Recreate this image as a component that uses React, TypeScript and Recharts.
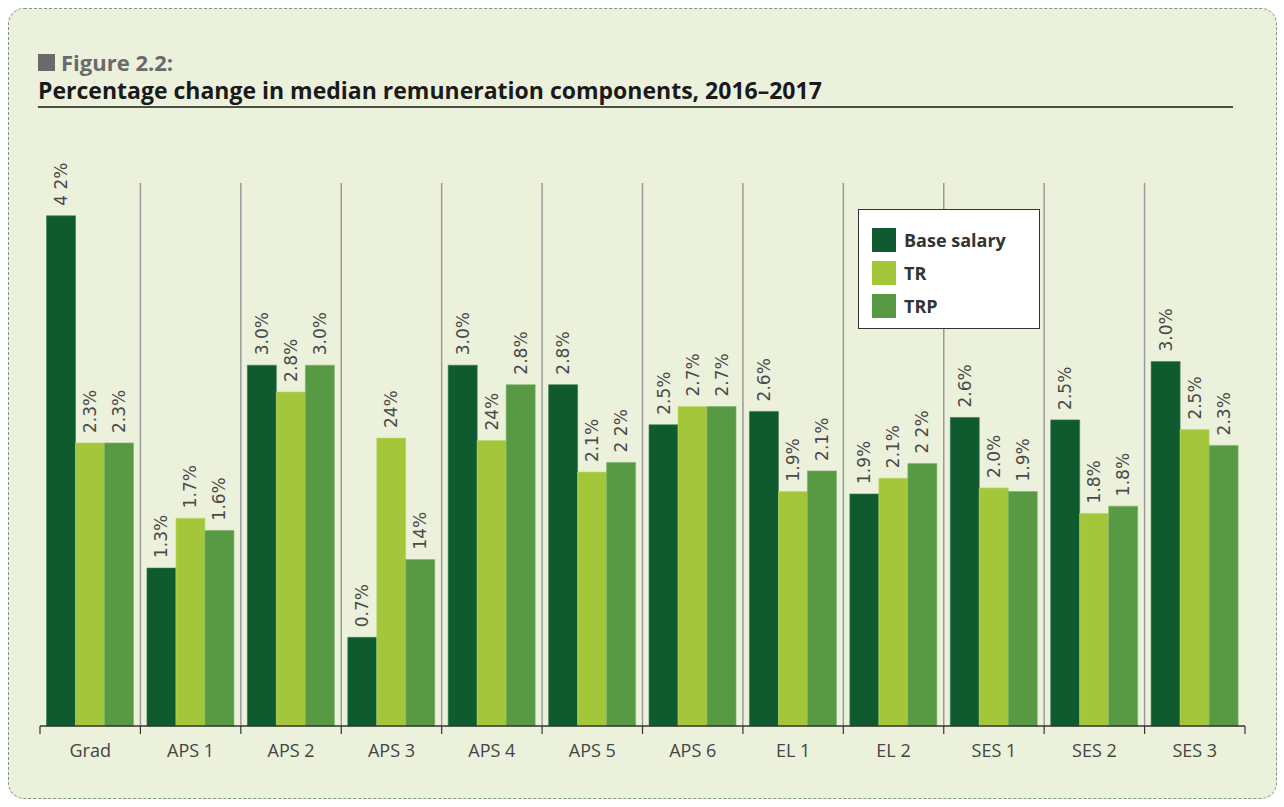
import { BarChart, Bar, XAxis, YAxis, CartesianGrid, LabelList } from 'recharts'

const categories = ['Grad', 'APS 1', 'APS 2', 'APS 3', 'APS 4', 'APS 5', 'APS 6', 'EL 1', 'EL 2', 'SES 1', 'SES 2', 'SES 3']

const baseSalary = [4.2, 1.3, 2.97, 0.73, 2.97, 2.81, 2.48, 2.59, 1.91, 2.54, 2.52, 3.0]
const tr = [2.33, 1.71, 2.75, 2.37, 2.35, 2.09, 2.63, 1.93, 2.04, 1.96, 1.75, 2.44]
const trp = [2.33, 1.61, 2.97, 1.37, 2.81, 2.17, 2.63, 2.1, 2.16, 1.93, 1.81, 2.31]

const baseLabels = ['4 2%', '1.3%', '3.0%', '0.7%', '3.0%', '2.8%', '2.5%', '2.6%', '1.9%', '2.6%', '2.5%', '3.0%']
const trLabels = ['2.3%', '1.7%', '2.8%', '24%', '24%', '2.1%', '2.7%', '1.9%', '2.1%', '2.0%', '1.8%', '2.5%']
const trpLabels = ['2.3%', '1.6%', '3.0%', '14%', '2.8%', '2 2%', '2.7%', '2.1%', '2 2%', '1.9%', '1.8%', '2.3%']

const COLORS = {
    base: '#0f5b2f',
    tr: '#a4c63a',
    trp: '#579a43',
}

const data = categories.map((name, i) => ({
    name,
    base: baseSalary[i],
    tr: tr[i],
    trp: trp[i],
    baseLabel: baseLabels[i],
    trLabel: trLabels[i],
    trpLabel: trpLabels[i],
}))

const W = 1284
const H = 807
const LEFT = 40
const RIGHT = 39
const BAND = (W - LEFT - RIGHT) / categories.length

const RotLabel = (props: any) => {
    const { x, y, width, value } = props
    const cx = x + width / 2
    const ty = y - 10
    return (
        <text
            x={cx}
            y={ty}
            transform={`rotate(-90 ${cx} ${ty})`}
            textAnchor="start"
            dominantBaseline="central"
            fontFamily="DejaVu Sans, sans-serif"
            fontSize={17}
            fill="#4a4a4a">
            {value}
        </text>
    )
}

const Tick = (props: any) => {
    const { x, y, payload, index } = props
    const left = x - BAND / 2
    return (
        <g>
            <line x1={left} x2={left} y1={y - 8} y2={y} stroke="#333" strokeWidth={1.2} />
            {index === categories.length - 1 && (
                <line x1={x + BAND / 2} x2={x + BAND / 2} y1={y - 8} y2={y} stroke="#333" strokeWidth={1.2} />
            )}
            <text x={x} y={y + 23} textAnchor="middle" fontFamily="Open Sans, sans-serif" fontSize={18} fill="#444">
                {payload.value}
            </text>
        </g>
    )
}

const legendItems = [
    { name: 'Base salary', color: COLORS.base },
    { name: 'TR', color: COLORS.tr },
    { name: 'TRP', color: COLORS.trp },
]

export default function App() {
    return (
        <div style={{ position: 'absolute', left: 0, top: 0, width: W, height: H, background: '#fff' }}>
            <div
                style={{
                    position: 'absolute',
                    left: 8,
                    top: 8,
                    width: 1269,
                    height: 791,
                    background: '#ecf1dc',
                    border: '1px dashed #7f9a7f',
                    borderRadius: 16,
                    boxSizing: 'border-box',
                }}
            />
            <div style={{ position: 'absolute', left: 38, top: 47, fontFamily: 'Open Sans, sans-serif', fontWeight: 700, fontSize: 22, color: '#6a6a6a', display: 'flex', alignItems: 'center' }}>
                <span style={{ display: 'inline-block', width: 17, height: 17, background: '#6a6a6a', marginRight: 6 }} />
                Figure 2.2:
            </div>
            <div style={{ position: 'absolute', left: 38, top: 74, fontFamily: 'Open Sans, sans-serif', fontWeight: 700, fontSize: 23, color: '#1a1a1a' }}>
                Percentage change in median remuneration components, 2016–2017
            </div>
            <div style={{ position: 'absolute', left: 38, top: 106, width: 1195, height: 2, background: '#4a4f45' }} />
            <div style={{ position: 'absolute', left: 0, top: 0 }}>
                <BarChart
                    width={W}
                    height={H}
                    data={data}
                    margin={{ top: 183, right: RIGHT, bottom: 41, left: LEFT }}
                    barCategoryGap="6.5%"
                    barGap={0}>
                    <CartesianGrid
                        horizontal={false}
                        stroke="#9a9a9a"
                        strokeWidth={1.5}
                        verticalCoordinatesGenerator={({ offset }: any) =>
                            categories.slice(1).map((_, i) => offset.left + (i + 1) * (offset.width / categories.length))
                        }
                    />
                    <XAxis dataKey="name" height={40} tickLine={false} axisLine={{ stroke: '#333', strokeWidth: 1.5 }} tick={<Tick />} interval={0} />
                    <YAxis hide domain={[0, 4.47]} />
                    <Bar dataKey="base" fill={COLORS.base} stroke="#3d7a4f" strokeWidth={0.6} isAnimationActive={false}>
                        <LabelList dataKey="baseLabel" content={<RotLabel />} />
                    </Bar>
                    <Bar dataKey="tr" fill={COLORS.tr} stroke="#bcd66a" strokeWidth={0.6} isAnimationActive={false}>
                        <LabelList dataKey="trLabel" content={<RotLabel />} />
                    </Bar>
                    <Bar dataKey="trp" fill={COLORS.trp} stroke="#7db06a" strokeWidth={0.6} isAnimationActive={false}>
                        <LabelList dataKey="trpLabel" content={<RotLabel />} />
                    </Bar>
                </BarChart>
            </div>
            <div
                style={{
                    position: 'absolute',
                    left: 858,
                    top: 209,
                    width: 182,
                    height: 120,
                    background: '#fff',
                    border: '1.5px solid #333',
                    boxSizing: 'border-box',
                    padding: '13px 0 0 13px',
                }}>
                {legendItems.map(item => (
                    <div key={item.name} style={{ display: 'flex', alignItems: 'center', height: 33 }}>
                        <div style={{ width: 24, height: 24, background: item.color, marginRight: 8 }} />
                        <span style={{ fontFamily: 'Open Sans, sans-serif', fontWeight: 700, fontSize: 18, color: '#333' }}>{item.name}</span>
                    </div>
                ))}
            </div>
        </div>
    )
}
